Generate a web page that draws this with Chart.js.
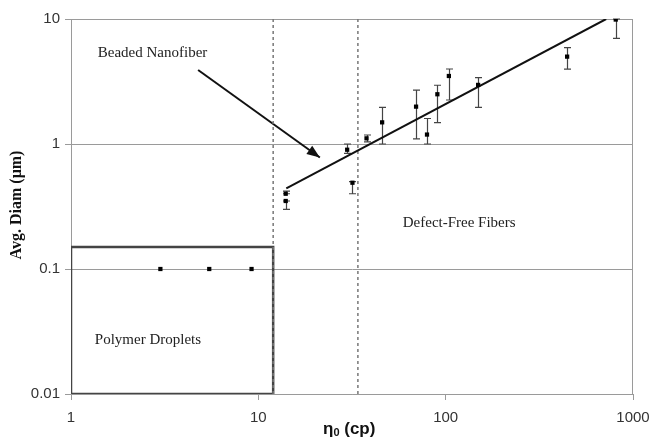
<!DOCTYPE html>
<html>
<head>
<meta charset="utf-8">
<script src="https://cdn.jsdelivr.net/npm/chart.js@4.4.0/dist/chart.umd.min.js"></script>
<style>
  body { margin: 0; background: #fff; }
</style>
</head>
<body>
<canvas id="myChart" width="653" height="439"></canvas>
<script>
// fiber diameters (log-log)
const fiberX = [14, 14, 29.8, 31.8, 37.8, 45.8, 69.5, 79.5, 90.3, 104, 149, 445, 809];
const fiberY = [0.40, 0.35, 0.90, 0.49, 1.11, 1.49, 1.99, 1.19, 2.5, 3.5, 2.97, 5.0, 9.9];
const errLow = [0.40, 0.30, 0.84, 0.40, 1.04, 1.0, 1.1, 1.0, 1.48, 2.25, 1.96, 3.97, 7.0];
const errHigh = [0.42, 0.35, 1.0, 0.50, 1.18, 1.96, 2.7, 1.6, 2.95, 3.98, 3.4, 5.9, 10];
const dropX = [3.0, 5.47, 9.2];
const dropY = [0.1, 0.1, 0.1];
const trendX = [14.1, 719];
const trendY = [0.442, 10];
const boundX = [12, 34];
const boxX = [1, 12, 12, 1, 1];
const boxY = [0.01, 0.01, 0.15, 0.15, 0.01];
const arrowX = [4.77, 21.3];
const arrowY = [3.91, 0.78];
const xTicks = [1, 10, 100, 1000];
const xTickLabels = ['1', '10', '100', '1000'];
const yTicks = [0.01, 0.1, 1, 10];
const yTickLabels = ['0.01', '0.1', '1', '10'];
const notes = [
	{ text: 'Beaded Nanofiber', x: 1.39, y: 5.35 },
	{ text: 'Defect-Free Fibers', x: 59, y: 0.233 },
	{ text: 'Polymer Droplets', x: 1.34, y: 0.027 }
];

function pts(xs, ys) {
	return xs.map((x, i) => ({ x: x, y: ys[i] }));
}

const extras = {
	id: 'extras',
	beforeDatasetsDraw(chart) {
		const ctx = chart.ctx;
		const xs = chart.scales.x, ys = chart.scales.y;
		const a = chart.chartArea;
		// frame
		ctx.save();
		ctx.strokeStyle = '#9a9a9a';
		ctx.lineWidth = 1;
		ctx.beginPath();
		ctx.moveTo(a.left, a.top + 0.5);
		ctx.lineTo(a.right - 0.5, a.top + 0.5);
		ctx.lineTo(a.right - 0.5, a.bottom);
		ctx.stroke();
		// error bars
		ctx.strokeStyle = '#444';
		ctx.lineWidth = 1.2;
		fiberX.forEach((x, i) => {
			const px = Math.round(xs.getPixelForValue(x)) + 0.5;
			const lo = ys.getPixelForValue(errLow[i]);
			const hi = ys.getPixelForValue(errHigh[i]);
			ctx.beginPath();
			ctx.moveTo(px, lo); ctx.lineTo(px, hi);
			ctx.moveTo(px - 3.5, lo); ctx.lineTo(px + 3.5, lo);
			ctx.moveTo(px - 3.5, hi); ctx.lineTo(px + 3.5, hi);
			ctx.stroke();
		});
		ctx.restore();
	},
	afterDraw(chart) {
		const ctx = chart.ctx;
		const xs = chart.scales.x, ys = chart.scales.y;
		ctx.save();
		// arrow head
		const x0 = xs.getPixelForValue(arrowX[0]), y0 = ys.getPixelForValue(arrowY[0]);
		const x1 = xs.getPixelForValue(arrowX[1]), y1 = ys.getPixelForValue(arrowY[1]);
		const ang = Math.atan2(y1 - y0, x1 - x0);
		ctx.fillStyle = '#111';
		ctx.beginPath();
		ctx.moveTo(x1, y1);
		ctx.lineTo(x1 - 13 * Math.cos(ang) + 5 * Math.sin(ang), y1 - 13 * Math.sin(ang) - 5 * Math.cos(ang));
		ctx.lineTo(x1 - 13 * Math.cos(ang) - 5 * Math.sin(ang), y1 - 13 * Math.sin(ang) + 5 * Math.cos(ang));
		ctx.closePath();
		ctx.fill();
		// notes
		ctx.fillStyle = '#222';
		ctx.font = '15px "Liberation Serif", serif';
		ctx.textBaseline = 'middle';
		ctx.textAlign = 'left';
		notes.forEach(n => {
			ctx.fillText(n.text, xs.getPixelForValue(n.x), ys.getPixelForValue(n.y));
		});
		// axis titles
		ctx.fillStyle = '#111';
		ctx.font = 'bold 16px "Liberation Serif", serif';
		ctx.save();
		ctx.translate(17, 205);
		ctx.rotate(-Math.PI / 2);
		ctx.textAlign = 'center';
		ctx.fillText('Avg. Diam (\u03bcm)', 0, 0);
		ctx.restore();
		ctx.textAlign = 'left';
		ctx.font = 'bold 17px "Liberation Sans", Arial, sans-serif';
		let tx = 323;
		const ty = 429;
		ctx.fillText('\u03b7', tx, ty);
		tx += ctx.measureText('\u03b7').width;
		ctx.font = 'bold 11px "Liberation Sans", Arial, sans-serif';
		ctx.fillText('0', tx, ty + 4);
		tx += ctx.measureText('0').width;
		ctx.font = 'bold 17px "Liberation Sans", Arial, sans-serif';
		ctx.fillText(' (cp)', tx, ty);
		ctx.restore();
	}
};

const myChart = new Chart(document.getElementById('myChart').getContext('2d'), {
	type: 'scatter',
	data: {
		datasets: [{
			label: 'fibers',
			data: pts(fiberX, fiberY),
			pointStyle: 'rect',
			pointRadius: 3,
			backgroundColor: '#000',
			borderColor: '#000',
			borderWidth: 0
		}, {
			label: 'droplets',
			data: pts(dropX, dropY),
			pointStyle: 'rect',
			pointRadius: 3,
			backgroundColor: '#000',
			borderColor: '#000',
			borderWidth: 0
		}, {
			label: 'trend',
			data: pts(trendX, trendY),
			showLine: true,
			pointRadius: 0,
			borderColor: '#111',
			borderWidth: 2
		}, {
			label: 'bound1',
			data: pts([boundX[0], boundX[0]], [0.01, 10]),
			showLine: true,
			pointRadius: 0,
			borderColor: '#777',
			borderWidth: 1.5,
			borderDash: [3, 3]
		}, {
			label: 'bound2',
			data: pts([boundX[1], boundX[1]], [0.01, 10]),
			showLine: true,
			pointRadius: 0,
			borderColor: '#777',
			borderWidth: 1.5,
			borderDash: [3, 3]
		}, {
			label: 'box',
			data: pts(boxX, boxY),
			showLine: true,
			pointRadius: 0,
			borderColor: '#444',
			borderWidth: 2.5
		}, {
			label: 'arrow',
			data: pts(arrowX, arrowY),
			showLine: true,
			pointRadius: 0,
			borderColor: '#111',
			borderWidth: 2
		}]
	},
	options: {
		responsive: false,
		animation: false,
		layout: { padding: { left: 0, top: 19, right: 20, bottom: 0 } },
		plugins: { legend: { display: false }, tooltip: { enabled: false } },
		scales: {
			x: {
				type: 'logarithmic',
				min: 1,
				max: 1000,
				afterBuildTicks: (scale) => { scale.ticks = xTicks.map(v => ({ value: v })); },
				afterFit: (scale) => {
					scale.height = 45;
					scale.paddingLeft = 0;
					scale.paddingRight = 0;
				},
				ticks: {
					callback: (v) => xTickLabels[xTicks.indexOf(v)],
					color: '#333',
					font: { family: '"Liberation Sans", Arial, sans-serif', size: 15 },
					padding: 9,
					maxRotation: 0
				},
				grid: { drawOnChartArea: false, tickLength: 6, color: '#9a9a9a' },
				border: { color: '#9a9a9a' }
			},
			y: {
				type: 'logarithmic',
				min: 0.01,
				max: 10,
				afterBuildTicks: (scale) => { scale.ticks = yTicks.map(v => ({ value: v })); },
				afterFit: (scale) => {
					scale.width = 71;
					scale.paddingTop = 0;
					scale.paddingBottom = 0;
				},
				ticks: {
					callback: (v) => yTickLabels[yTicks.indexOf(v)],
					color: '#333',
					font: { family: '"Liberation Sans", Arial, sans-serif', size: 15 },
					padding: 5
				},
				grid: { tickLength: 6, color: '#9a9a9a' },
				border: { color: '#9a9a9a' }
			}
		}
	},
	plugins: [extras]
});
</script>
</body>
</html>
